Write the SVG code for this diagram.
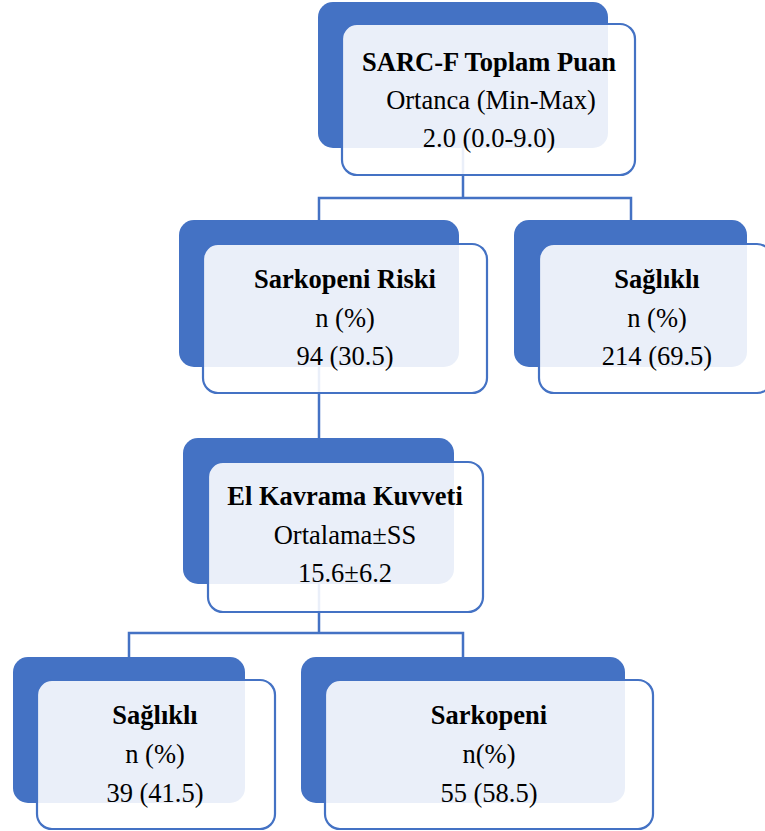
<svg xmlns="http://www.w3.org/2000/svg" width="765" height="831" viewBox="0 0 765 831">
<style>
.back{fill:#4472C4}
.front{fill:#FFFFFF;fill-opacity:0.89;stroke:#4472C4;stroke-width:2.2}
.conn{fill:none;stroke:#4472C4;stroke-width:2.5}
.t{font-family:'Liberation Serif','Times New Roman',serif;font-size:26.5px;fill:#000000;text-anchor:middle}
.b{font-weight:bold}
</style>
<rect width="765" height="831" fill="#FFFFFF"/>
<g id="connectors">
<path class="conn" d="M463,148 V198 M319,220 V198 H631 V220"/>
<path class="conn" d="M319,367 V438"/>
<path class="conn" d="M319,584 V633 M129,657 V633 H463 V657"/>
</g>
<g id="sarcf">
<rect class="back" x="318" y="2" width="290" height="146" rx="15"/>
<rect class="front" x="342" y="24" width="293" height="151" rx="15"/>
<text class="t b" x="489" y="71">SARC-F Toplam Puan</text>
<text class="t" x="491" y="109">Ortanca (Min-Max)</text>
<text class="t" x="489" y="147">2.0 (0.0-9.0)</text>
</g>
<g id="risk">
<rect class="back" x="179" y="220" width="280" height="147" rx="15"/>
<rect class="front" x="203" y="244" width="284" height="149" rx="15"/>
<text class="t b" x="345" y="288">Sarkopeni Riski</text>
<text class="t" x="345" y="327">n (%)</text>
<text class="t" x="345" y="365">94 (30.5)</text>
</g>
<g id="healthy1">
<rect class="back" x="514" y="220" width="233" height="147" rx="15"/>
<rect class="front" x="539" y="244" width="233" height="149" rx="15"/>
<text class="t b" x="657" y="288">Sağlıklı</text>
<text class="t" x="657" y="327">n (%)</text>
<text class="t" x="657" y="365">214 (69.5)</text>
</g>
<g id="grip">
<rect class="back" x="183" y="438" width="271" height="146" rx="15"/>
<rect class="front" x="208" y="462" width="275" height="150" rx="15"/>
<text class="t b" x="345" y="505">El Kavrama Kuvveti</text>
<text class="t" x="345" y="544">Ortalama±SS</text>
<text class="t" x="345" y="582">15.6±6.2</text>
</g>
<g id="healthy2">
<rect class="back" x="13" y="657" width="232" height="146" rx="15"/>
<rect class="front" x="37" y="680" width="238" height="149" rx="15"/>
<text class="t b" x="155" y="724">Sağlıklı</text>
<text class="t" x="155" y="763">n (%)</text>
<text class="t" x="155" y="802">39 (41.5)</text>
</g>
<g id="sarcopenia">
<rect class="back" x="301" y="657" width="324" height="146" rx="15"/>
<rect class="front" x="325" y="680" width="328" height="149" rx="15"/>
<text class="t b" x="489" y="724">Sarkopeni</text>
<text class="t" x="489" y="763">n(%)</text>
<text class="t" x="489" y="802">55 (58.5)</text>
</g>
</svg>
